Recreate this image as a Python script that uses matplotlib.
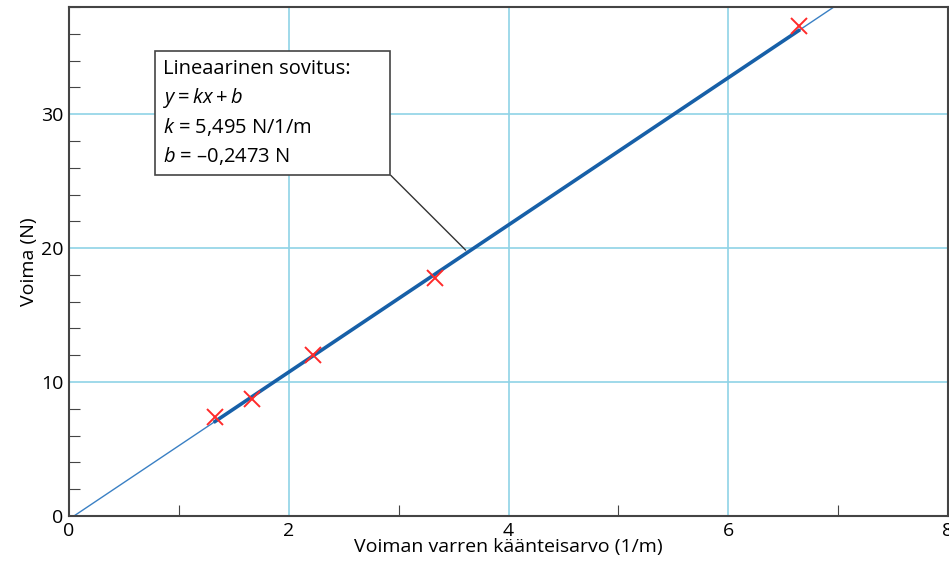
import matplotlib.pyplot as plt
import numpy as np
from matplotlib.ticker import MultipleLocator

plt.rcParams["font.family"] = ["Open Sans", "DejaVu Sans"]
plt.rcParams["mathtext.fontset"] = "custom"
plt.rcParams["mathtext.rm"] = "Open Sans"
plt.rcParams["mathtext.it"] = "Open Sans:italic"

# measured data: inverse lever arm (1/m) vs force (N)
inv_arm = [1.33, 1.67, 2.22, 3.33, 6.64]
force = [7.4, 8.75, 12.0, 17.75, 36.55]

# fitted line parameters (from the annotation)
k = 5.495
b = -0.2473

fig = plt.figure(figsize=(9.49, 5.63), dpi=100)
ax = fig.add_axes([0.0727, 0.0835, 0.9263, 0.904])

grid_color = "#8fd3e6"
ax.set_xlim(0, 8)
ax.set_ylim(0, 38)
ax.xaxis.set_major_locator(MultipleLocator(2))
ax.xaxis.set_minor_locator(MultipleLocator(1))
ax.yaxis.set_major_locator(MultipleLocator(10))
ax.yaxis.set_minor_locator(MultipleLocator(2))
ax.grid(True, which="major", color=grid_color, linewidth=1.2)
ax.set_axisbelow(True)
ax.tick_params(which="major", direction="in", length=0, labelsize=14, pad=4)
ax.tick_params(which="minor", direction="in", length=8, width=0.8, color="#444444")
for s in ax.spines.values():
    s.set_color("#444444")
    s.set_linewidth(1.5)

# thin full fit line and thick part over measured range
xs = np.array([0, 8])
ax.plot(xs, k * xs + b, color="#3a80c4", linewidth=1.0)
xr = np.array([min(inv_arm), max(inv_arm)])
ax.plot(xr, k * xr + b, color="#1760a8", linewidth=2.6)
ax.plot(inv_arm, force, linestyle="none", marker="x", markersize=11,
        markeredgewidth=1.4, color="#ff2a2a")

ax.set_xlabel("Voiman varren käänteisarvo (1/m)", fontsize=14, labelpad=-1)
ax.set_ylabel("Voima (N)", fontsize=14, labelpad=2)

# trailing spaces widen the box like in the original
note = ("Lineaarinen sovitus:      \n"
        "$y = kx + b$\n"
        "$k$ = 5,495 N/1/m\n"
        "$b$ = –0,2473 N")
ax.annotate(note, xy=(3.61, 19.85), xytext=(0.855, 34.1),
            ha="left", va="top", fontsize=14.5, linespacing=1.38,
            bbox=dict(boxstyle="square,pad=0.4", fc="white", ec="#444444", lw=1.2),
            arrowprops=dict(arrowstyle="-", color="#333333", lw=1.0,
                            relpos=(1, 0), shrinkA=0, shrinkB=0))

fig.savefig("out.png", dpi=100)
